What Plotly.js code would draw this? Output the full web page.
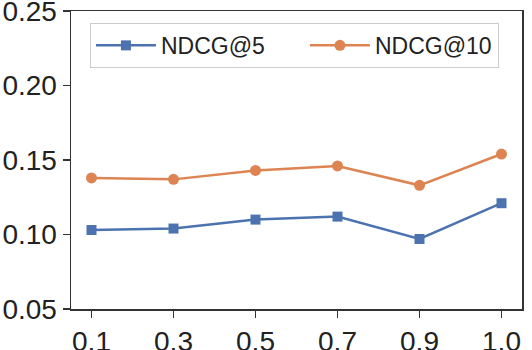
<!DOCTYPE html>
<html>
<head>
<meta charset="utf-8">
<script src="https://cdn.plot.ly/plotly-3.0.1.min.js"></script>
<style>
  html, body { margin: 0; padding: 0; background: #fff; }
  #chart { width: 532px; height: 350px; }
</style>
</head>
<body>
<div id="chart"></div>
<script>
// Werte
var xLabels = ['0.1', '0.3', '0.5', '0.7', '0.9', '1.0'];
var ndcg5  = [0.103, 0.104, 0.110, 0.112, 0.097, 0.121];
var ndcg10 = [0.138, 0.137, 0.143, 0.146, 0.133, 0.154];
var yTicks = [0.05, 0.10, 0.15, 0.20, 0.25];

var traces = [
    {
        x: xLabels,
        y: ndcg5,
        name: 'NDCG@5',
        type: 'scatter',
        mode: 'lines+markers',
        legendwidth: 139,
        line: { color: '#4C72B0', width: 2.5 },
        marker: { symbol: 'square', size: 10, color: '#4C72B0' }
    },
    {
        x: xLabels,
        y: ndcg10,
        name: 'NDCG@10',
        type: 'scatter',
        mode: 'lines+markers',
        legendwidth: 118,
        line: { color: '#DD8452', width: 2.5 },
        marker: { symbol: 'circle', size: 11, color: '#DD8452' }
    }
];

// gemeinsame Achsen-Einstellungen
var axisStyle = {
    showgrid: false,
    zeroline: false,
    showline: true,
    mirror: true,
    linecolor: '#333',
    linewidth: 1.5,
    ticks: 'outside',
    ticklen: 7,
    tickwidth: 1.5,
    tickcolor: '#333',
    ticklabeloverflow: 'allow',
    tickfont: { size: 28, color: '#222' }
};

var layout = {
    width: 532,
    height: 350,
    margin: { l: 71, r: 10, t: 11, b: 41 },
    paper_bgcolor: '#fff',
    plot_bgcolor: '#fff',
    font: { family: 'Liberation Sans, Arial, sans-serif', color: '#222', size: 22 },
    showlegend: true,
    legend: {
        orientation: 'h',
        x: 0.042, y: 0.96,
        xanchor: 'left', yanchor: 'top',
        bgcolor: '#fff',
        bordercolor: '#cccccc',
        borderwidth: 1,
        font: { size: 23, color: '#222' },
        itemwidth: 60
    },
    xaxis: Object.assign({}, axisStyle, {
        type: 'category',
        range: [-0.25, 5.25]
    }),
    yaxis: Object.assign({}, axisStyle, {
        range: [0.05, 0.25],
        tickvals: yTicks,
        tickformat: '.2f'
    })
};

Plotly.newPlot('chart', traces, layout, { displayModeBar: false, staticPlot: true });
</script>
</body>
</html>
